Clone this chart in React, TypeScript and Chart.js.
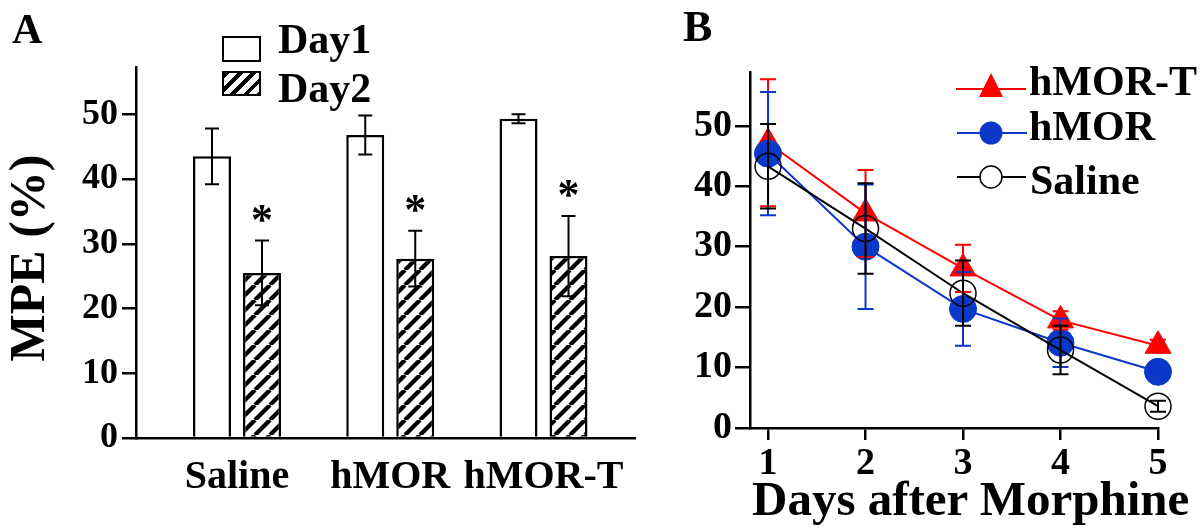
import React, { useEffect, useRef } from 'react';
import { Chart, registerables } from 'chart.js';

Chart.register(...registerables);

const FONT = "'Liberation Serif', 'Times New Roman', serif";

// ---------- Panel A data ----------
const groups = ['Saline', 'hMOR', 'hMOR-T'];
const groupPositions = [0, 1, 2];
const day1Values = [43.5, 46.8, 49.3];
const day1Errors = [4.3, 3.0, 0.7];
const day2Values = [25.5, 27.7, 28.1];
const day2Errors = [5.0, 4.3, 6.2];
const day2Significant = [true, true, true];
const mpeTicks = [0, 10, 20, 30, 40, 50];
const mpeMax = 57.3;

// ---------- Panel B data ----------
const days = [1, 2, 3, 4, 5];
const hmorTValues = [47.2, 35.5, 26.4, 17.8, 13.6];
const hmorTErrors = [10.5, 7.2, 3.9, 1.5, 1.0];
const hmorValues = [45.4, 30.0, 19.7, 14.1, 9.3];
const hmorErrors = [10.2, 10.3, 6.1, 4.0, 0.8];
const salineValues = [43.3, 33.0, 22.3, 12.9, 3.6];
const salineErrors = [7.0, 7.5, 5.4, 4.0, 0.9];
const bTicks = [0, 10, 20, 30, 40, 50];
const bMax = 58.9;
const dayMin = 0.815;
const dayMax = 5;

const RED = '#ff0000';
const BLUE = '#0a38c8';
const BLACK = '#000000';

const errorBarPlugin = {
  id: 'errorBars',
  afterDatasetsDraw(chart: any) {
    const ctx = chart.ctx;
    const yScale = chart.scales.y;
    chart.data.datasets.forEach((ds: any, i: number) => {
      const errs = ds.errors;
      if (!errs) return;
      const meta = chart.getDatasetMeta(i);
      ctx.save();
      ctx.strokeStyle = ds.errorColor || '#000';
      ctx.lineWidth = ds.errorWidth || 2;
      const half = (ds.capWidth || 14) / 2;
      meta.data.forEach((el: any, j: number) => {
        const v = ds.data[j].y;
        const e = errs[j];
        const x = el.x;
        const yt = yScale.getPixelForValue(v + e);
        const yb = yScale.getPixelForValue(v - e);
        ctx.beginPath();
        ctx.moveTo(x, yt);
        ctx.lineTo(x, yb);
        ctx.moveTo(x - half, yt);
        ctx.lineTo(x + half, yt);
        ctx.moveTo(x - half, yb);
        ctx.lineTo(x + half, yb);
        ctx.stroke();
      });
      ctx.restore();
    });
  },
};

const starPlugin = {
  id: 'stars',
  afterDatasetsDraw(chart: any) {
    const ctx = chart.ctx;
    const yScale = chart.scales.y;
    chart.data.datasets.forEach((ds: any, i: number) => {
      if (!ds.stars) return;
      const meta = chart.getDatasetMeta(i);
      ctx.save();
      ctx.fillStyle = '#000';
      ctx.font = `bold 44px ${FONT}`;
      ctx.textAlign = 'center';
      ctx.textBaseline = 'alphabetic';
      const m = ctx.measureText('*');
      const off = (m.actualBoundingBoxAscent - m.actualBoundingBoxDescent) / 2;
      meta.data.forEach((el: any, j: number) => {
        if (!ds.stars[j]) return;
        const top = ds.data[j].y + (ds.errors ? ds.errors[j] : 0);
        const cy = yScale.getPixelForValue(top) - 27;
        ctx.fillText('*', el.x, cy + off);
      });
      ctx.restore();
    });
  },
};

function makeHatch(): CanvasPattern | string {
  const c = document.createElement('canvas');
  const s = 15;
  c.width = s;
  c.height = s;
  const g = c.getContext('2d');
  if (!g) return '#888';
  g.fillStyle = '#fff';
  g.fillRect(0, 0, s, s);
  g.strokeStyle = '#000';
  g.lineWidth = 4.3;
  for (let k = -1; k <= 1; k++) {
    g.beginPath();
    g.moveTo(k * s, s);
    g.lineTo(k * s + s, 0);
    g.stroke();
  }
  const p = g.createPattern(c, 'repeat');
  return p || '#888';
}

function PanelA() {
  const ref = useRef<HTMLCanvasElement | null>(null);
  useEffect(() => {
    if (!ref.current) return;
    const hatch = makeHatch();
    const tickFont = { family: FONT, size: 36, weight: 'bold' as const };
    const chart = new Chart(ref.current, {
      type: 'bar',
      data: {
        datasets: [
          {
            label: 'Day1',
            data: groupPositions.map((x, i) => ({ x, y: day1Values[i] })),
            backgroundColor: '#ffffff',
            borderColor: '#000',
            borderWidth: 2.5,
            borderSkipped: 'start',
            categoryPercentage: 0.6525,
            barPercentage: 0.76,
            errors: day1Errors,
            errorColor: '#000',
            capWidth: 14,
          } as any,
          {
            label: 'Day2',
            data: groupPositions.map((x, i) => ({ x, y: day2Values[i] })),
            backgroundColor: hatch,
            borderColor: '#000',
            borderWidth: 2.5,
            borderSkipped: 'start',
            categoryPercentage: 0.6525,
            barPercentage: 0.76,
            errors: day2Errors,
            errorColor: '#000',
            capWidth: 14,
            stars: day2Significant,
          } as any,
        ],
      },
      options: {
        responsive: false,
        animation: false,
        layout: { padding: { top: 67, right: 25, left: 0, bottom: 0 } },
        plugins: { legend: { display: false }, tooltip: { enabled: false } },
        scales: {
          x: {
            type: 'linear',
            min: -0.659,
            max: 2.597,
            offset: false,
            grid: { display: false },
            border: { display: true, color: '#000', width: 2.5 },
            afterBuildTicks: (s: any) => {
              s.ticks = groupPositions.map((v) => ({ value: v }));
            },
            afterFit: (s: any) => {
              s.height = 92;
            },
            ticks: {
              autoSkip: false,
              maxRotation: 0,
              minRotation: 0,
              padding: 8,
              color: '#000',
              font: { family: FONT, size: 40, weight: 'bold' },
              callback: (v: any) => {
                const idx = groupPositions.indexOf(Number(v));
                return idx >= 0 ? groups[idx] : '';
              },
            },
          },
          y: {
            type: 'linear',
            min: 0,
            max: mpeMax,
            grid: {
              display: true,
              drawOnChartArea: false,
              drawTicks: true,
              tickLength: 14,
              color: '#000',
              lineWidth: 2.5,
            },
            border: { display: true, color: '#000', width: 2.5 },
            afterBuildTicks: (s: any) => {
              s.ticks = mpeTicks.map((v) => ({ value: v }));
            },
            afterFit: (s: any) => {
              s.width = 136;
            },
            ticks: {
              padding: 4,
              color: '#000',
              font: tickFont,
              callback: (v: any) => String(v),
            },
          },
        },
      } as any,
      plugins: [errorBarPlugin, starPlugin],
    });
    return () => chart.destroy();
  }, []);
  return (
    <canvas
      ref={ref}
      width={660}
      height={530}
      style={{ position: 'absolute', left: 0, top: 0, width: 660, height: 530 }}
    />
  );
}

function PanelB() {
  const ref = useRef<HTMLCanvasElement | null>(null);
  useEffect(() => {
    if (!ref.current) return;
    const tickFont = { family: FONT, size: 38, weight: 'bold' as const };
    const chart = new Chart(ref.current, {
      type: 'line',
      data: {
        datasets: [
          {
            label: 'hMOR-T',
            data: days.map((x, i) => ({ x, y: hmorTValues[i] })),
            borderColor: RED,
            backgroundColor: RED,
            borderWidth: 2,
            pointStyle: 'triangle',
            pointRadius: 15,
            pointBackgroundColor: RED,
            pointBorderColor: RED,
            pointBorderWidth: 1,
            fill: false,
            tension: 0,
            clip: false,
            order: 3,
            errors: hmorTErrors,
            errorColor: RED,
            capWidth: 16,
          } as any,
          {
            label: 'hMOR',
            data: days.map((x, i) => ({ x, y: hmorValues[i] })),
            borderColor: BLUE,
            backgroundColor: BLUE,
            borderWidth: 2,
            pointStyle: 'circle',
            pointRadius: 13.5,
            pointBackgroundColor: BLUE,
            pointBorderColor: BLUE,
            pointBorderWidth: 1,
            fill: false,
            tension: 0,
            clip: false,
            order: 2,
            errors: hmorErrors,
            errorColor: BLUE,
            capWidth: 16,
          } as any,
          {
            label: 'Saline',
            data: days.map((x, i) => ({ x, y: salineValues[i] })),
            borderColor: BLACK,
            backgroundColor: 'rgba(0,0,0,0)',
            borderWidth: 2,
            pointStyle: 'circle',
            pointRadius: 13,
            pointBackgroundColor: 'rgba(0,0,0,0)',
            pointBorderColor: BLACK,
            pointBorderWidth: 1.5,
            fill: false,
            tension: 0,
            clip: false,
            order: 1,
            errors: salineErrors,
            errorColor: BLACK,
            capWidth: 16,
          } as any,
        ],
      },
      options: {
        responsive: false,
        animation: false,
        layout: { padding: { top: 72, right: 42, left: 0, bottom: 0 } },
        plugins: { legend: { display: false }, tooltip: { enabled: false } },
        scales: {
          x: {
            type: 'linear',
            min: dayMin,
            max: dayMax,
            offset: false,
            grid: {
              display: true,
              drawOnChartArea: false,
              drawTicks: true,
              tickLength: 12,
              color: '#000',
              lineWidth: 2.5,
            },
            border: { display: true, color: '#000', width: 2.5 },
            afterBuildTicks: (s: any) => {
              s.ticks = days.map((v) => ({ value: v }));
            },
            afterFit: (s: any) => {
              s.height = 102;
            },
            ticks: {
              autoSkip: false,
              maxRotation: 0,
              minRotation: 0,
              padding: 1,
              color: '#000',
              font: tickFont,
              callback: (v: any) => String(v),
            },
          },
          y: {
            type: 'linear',
            min: 0,
            max: bMax,
            grid: {
              display: true,
              drawOnChartArea: false,
              drawTicks: true,
              tickLength: 15,
              color: '#000',
              lineWidth: 2.5,
            },
            border: { display: true, color: '#000', width: 2.5 },
            afterBuildTicks: (s: any) => {
              s.ticks = bTicks.map((v) => ({ value: v }));
            },
            afterFit: (s: any) => {
              s.width = 90;
            },
            ticks: {
              padding: 3,
              color: '#000',
              font: tickFont,
              callback: (v: any) => String(v),
            },
          },
        },
      } as any,
      plugins: [errorBarPlugin],
    });
    return () => chart.destroy();
  }, []);
  return (
    <canvas
      ref={ref}
      width={540}
      height={530}
      style={{ position: 'absolute', left: 660, top: 0, width: 540, height: 530 }}
    />
  );
}

const textBase: React.CSSProperties = {
  position: 'absolute',
  fontFamily: FONT,
  fontWeight: 'bold',
  lineHeight: 1,
  whiteSpace: 'nowrap',
  color: '#000',
};

export default function App() {
  return (
    <div
      style={{
        position: 'fixed',
        left: 0,
        top: 0,
        width: 1200,
        height: 530,
        background: '#fff',
        overflow: 'hidden',
      }}
    >
      <PanelA />
      <PanelB />

      {/* panel letters */}
      <div style={{ ...textBase, left: 12, top: 8, fontSize: 42 }}>A</div>
      <div style={{ ...textBase, left: 683, top: 5, fontSize: 44 }}>B</div>

      {/* y title panel A */}
      <div
        style={{
          ...textBase,
          left: 27,
          top: 258,
          fontSize: 50,
          transform: 'translate(-50%, -50%) rotate(-90deg)',
        }}
      >
        MPE (%)
      </div>

      {/* legend panel A */}
      <div
        style={{
          position: 'absolute',
          left: 222,
          top: 36,
          width: 39,
          height: 26,
          border: '2.5px solid #000',
          boxSizing: 'border-box',
          background: '#fff',
        }}
      />
      <div
        style={{
          position: 'absolute',
          left: 222,
          top: 71,
          width: 39,
          height: 25,
          border: '2.5px solid #000',
          boxSizing: 'border-box',
          background:
            'repeating-linear-gradient(135deg, #000 0px, #000 4px, #fff 4px, #fff 9.5px)',
        }}
      />
      <div style={{ ...textBase, left: 278, top: 18, fontSize: 42 }}>Day1</div>
      <div style={{ ...textBase, left: 278, top: 67, fontSize: 42 }}>Day2</div>

      {/* legend panel B markers */}
      <svg
        width={1200}
        height={530}
        style={{ position: 'absolute', left: 0, top: 0, pointerEvents: 'none' }}
      >
        <line x1={956} y1={89} x2={1026} y2={89} stroke={RED} strokeWidth={2} />
        <polygon points="991,73 979,97 1003,97" fill={RED} />
        <line x1={957} y1={133} x2={1027} y2={133} stroke={BLUE} strokeWidth={2} />
        <circle cx={991} cy={133} r={11.5} fill={BLUE} />
        <line x1={957} y1={177} x2={1026} y2={177} stroke={BLACK} strokeWidth={2} />
        <circle cx={991} cy={177} r={11} fill="#fff" stroke={BLACK} strokeWidth={1.5} />
      </svg>
      <div style={{ ...textBase, left: 1029, top: 60, fontSize: 42 }}>hMOR-T</div>
      <div style={{ ...textBase, left: 1029, top: 105, fontSize: 42 }}>hMOR</div>
      <div style={{ ...textBase, left: 1030, top: 159, fontSize: 42 }}>Saline</div>

      {/* x title panel B */}
      <div style={{ ...textBase, left: 752, top: 474, fontSize: 49 }}>Days after Morphine</div>
    </div>
  );
}
